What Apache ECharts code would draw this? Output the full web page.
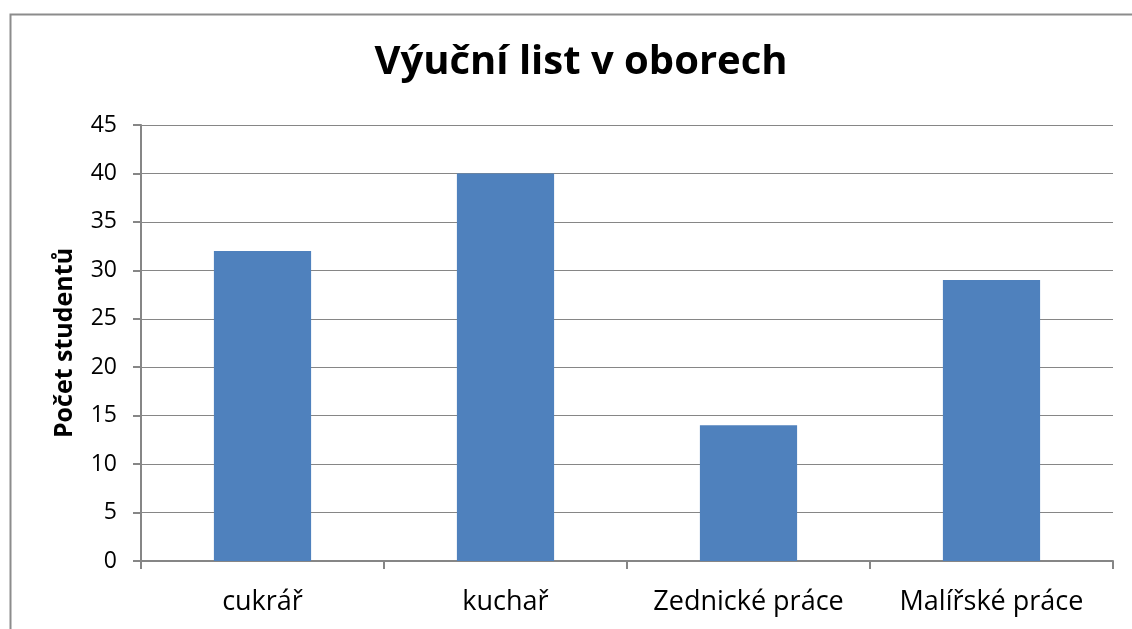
<!DOCTYPE html>
<html>
<head>
<meta charset="utf-8">
<script src="https://cdn.jsdelivr.net/npm/echarts@6/dist/echarts.min.js"></script>
<style>
  html, body { margin: 0; padding: 0; background: #fff; }
  #chart { width: 1132px; height: 629px; }
</style>
</head>
<body>
<div id="chart"></div>
<script>
const categories = ["cukrář", "kuchař", "Zednické práce", "Malířské práce"];
const studentCounts = [32, 40, 14, 29];
const yTicks = { min: 0, max: 45, interval: 5 };

const myChart = echarts.init(document.getElementById("chart"));

const options = {
  backgroundColor: "#fff",
  animation: false,
  title: {
    text: "Výuční list v oborech",
    left: 576,
    top: 38,
    textAlign: "center",
    textStyle: {
      fontFamily: "Open Sans",
      fontWeight: "bold",
      fontSize: 40,
      color: "#000",
    },
  },
  graphic: [
    {
      type: "rect",
      left: 8,
      top: 12,
      shape: { width: 1140, height: 640 },
      style: { fill: "none", stroke: "#8c8c8c", lineWidth: 2 },
      silent: true,
    },
  ],
  grid: {
    left: 141,
    right: 19,
    top: 125,
    bottom: 68,
    containLabel: false,
  },
  xAxis: {
    type: "category",
    data: categories,
    axisLine: { lineStyle: { color: "#868686", width: 2 } },
    axisTick: { show: true, length: 8, lineStyle: { color: "#868686", width: 2 } },
    axisLabel: {
      interval: 0,
      hideOverlap: false,
      margin: 28,
      fontFamily: "Open Sans",
      fontSize: 27,
      color: "#000",
    },
  },
  yAxis: {
    type: "value",
    min: yTicks.min,
    max: yTicks.max,
    interval: yTicks.interval,
    name: "Počet studentů",
    nameLocation: "middle",
    nameGap: 64,
    nameTextStyle: {
      fontFamily: "Open Sans",
      fontWeight: "bold",
      fontSize: 25,
      color: "#000",
    },
    axisLine: { show: true, lineStyle: { color: "#868686", width: 2 } },
    axisTick: { show: true, length: 8, lineStyle: { color: "#868686", width: 2 } },
    splitLine: { show: true, lineStyle: { color: "#868686", width: 1 } },
    axisLabel: {
      margin: 24,
      fontFamily: "Open Sans",
      fontSize: 23,
      color: "#000",
    },
  },
  series: [
    {
      type: "bar",
      data: studentCounts,
      barWidth: "40%",
      itemStyle: { color: "#4F81BD" },
    },
  ],
};

myChart.setOption(options);
</script>
</body>
</html>
